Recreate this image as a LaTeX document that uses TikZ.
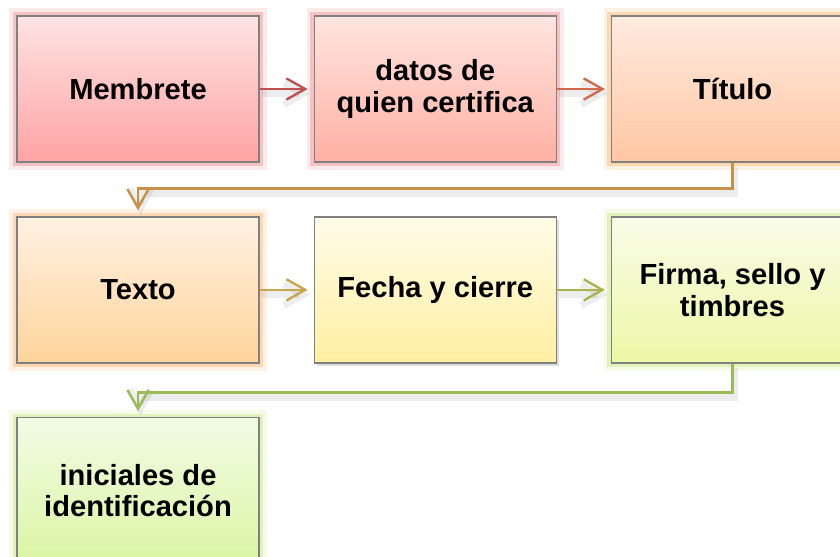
\documentclass[tikz,border=0pt]{standalone}
\usepackage{fontspec}
\setmainfont{Liberation Sans}
\usepackage{xcolor}
\usepackage{tikz}
\usetikzlibrary{positioning, arrows.meta, shadows}

\definecolor{memtop}{HTML}{FFE3E3}
\definecolor{membot}{HTML}{FFA3A3}
\definecolor{dattop}{HTML}{FFE5E0}
\definecolor{datbot}{HTML}{FFB0A3}
\definecolor{tittop}{HTML}{FFEBE0}
\definecolor{titbot}{HTML}{FFC6A3}
\definecolor{textop}{HTML}{FFF1E3}
\definecolor{texbot}{HTML}{FFD49B}
\definecolor{fectop}{HTML}{FFFCE8}
\definecolor{fecbot}{HTML}{FFEFA3}
\definecolor{firtop}{HTML}{F9FCE8}
\definecolor{firbot}{HTML}{ECF7A6}
\definecolor{initop}{HTML}{F2FCE6}
\definecolor{inibot}{HTML}{DAF5A3}
\definecolor{redglow}{HTML}{F29A9A}
\definecolor{orangeglow}{HTML}{FDBE7E}
\definecolor{greenglow}{HTML}{CDEA8E}
\definecolor{arrred}{HTML}{C0504D}
\definecolor{arrsalmon}{HTML}{CF6A4D}
\definecolor{arrtan}{HTML}{C8914A}
\definecolor{arrgold}{HTML}{C6A84A}
\definecolor{arrolive}{HTML}{AAB34B}
\definecolor{arrgreen}{HTML}{9BBB59}

\begin{document}
\begin{tikzpicture}[
    stepbox/.style={draw=black!50, line width=0.9pt, rectangle, minimum width=6.05cm, minimum height=3.65cm, align=center, font=\fontsize{20.7}{22.5}\selectfont\bfseries},
    glow/.style={preaction={draw=#1, line width=11pt, opacity=.2}, preaction={draw=#1, line width=6pt, opacity=.5}},
    link/.style={draw=#1, line width=1.7pt, -{Straight Barb[length=4.7mm, width=5.3mm]}, shorten >=1.5mm, preaction={draw=black, opacity=.07, line width=5pt, transform canvas={shift={(0.6mm,-1.2mm)}}}},
    node distance=1.34cm and 1.35cm
]
    \useasboundingbox (0,0) rectangle (21,-13.9);
    \clip (0,0) rectangle (21,-13.9);

    % --- First row ---
    \node[stepbox, glow=redglow, top color=memtop, bottom color=membot] (mem) at (3.45,-2.225) {Membrete};
    \node[stepbox, glow=redglow, top color=dattop, bottom color=datbot, right=of mem] (dat) {datos de\\quien certifica};
    \node[stepbox, glow=orangeglow, top color=tittop, bottom color=titbot, right=of dat] (tit) {Título};

    % --- Second row ---
    \node[stepbox, glow=orangeglow, top color=textop, bottom color=texbot, below=of mem] (tex) {Texto};
    \node[stepbox, top color=fectop, bottom color=fecbot, drop shadow={opacity=.25, shadow xshift=.6mm, shadow yshift=-.8mm}, right=of tex] (fec) {Fecha y cierre};
    \node[stepbox, glow=greenglow, top color=firtop, bottom color=firbot, right=of fec] (fir) {Firma, sello y\\timbres};

    % --- Third row ---
    \node[stepbox, glow=greenglow, top color=initop, bottom color=inibot, below=of tex] (ini) {iniciales de\\identificación};

    % --- Connectors ---
    \draw[link=arrred] (mem) -- (dat);
    \draw[link=arrsalmon] (dat) -- (tit);
    \draw[link=arrtan] (tit.south) -- ++(0,-0.65) -| (tex.north);
    \draw[link=arrgold] (tex) -- (fec);
    \draw[link=arrolive] (fec) -- (fir);
    \draw[link=arrgreen] (fir.south) -- ++(0,-0.72) -| (ini.north);
\end{tikzpicture}
\end{document}
